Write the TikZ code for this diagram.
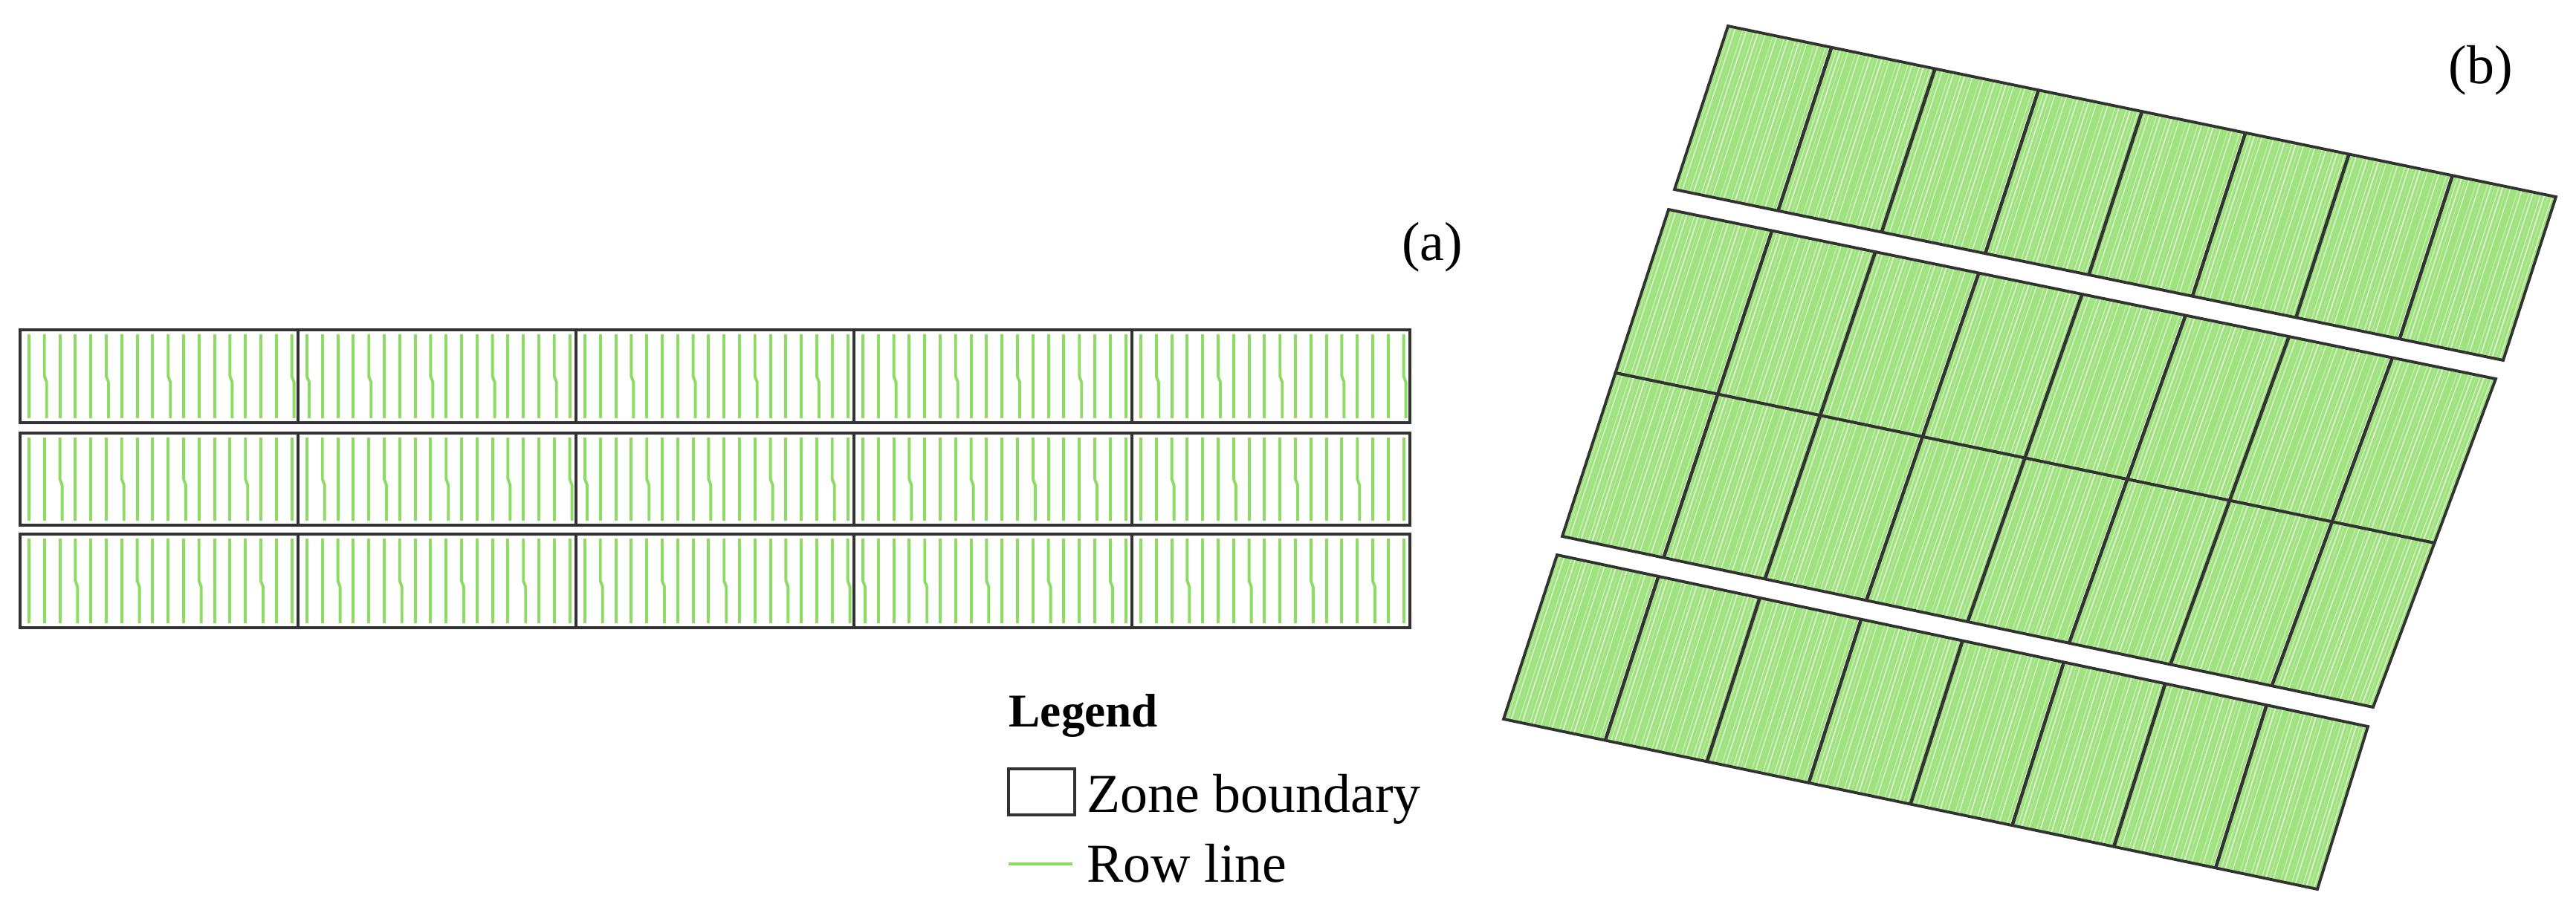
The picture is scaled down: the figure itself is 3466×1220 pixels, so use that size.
\documentclass[tikz,border=0pt]{standalone}
\usepackage{fontspec}
\setmainfont{Liberation Serif}
\usetikzlibrary{calc}

\definecolor{rowgreen}{RGB}{140,220,100}
\definecolor{fieldgreen}{RGB}{160,226,128}
\definecolor{zonegray}{RGB}{50,50,50}

\tikzset{
  zone/.style={draw=zonegray, line width=1.1pt},
  row/.style={draw=rowgreen, line width=1.1pt},
  field/.style={fill=fieldgreen},
  furrow/.style={draw=white, line width=0.4pt},
  divider/.style={draw=black!80, line width=1.3pt},
  label/.style={font=\fontsize{21}{24}\selectfont, inner sep=0pt},
}

% one rotated strip of panel (b): corners tl, tr, bl, br
\newcommand\fieldstrip[4]{%
  \coordinate (tl) at (#1);
  \coordinate (tr) at (#2);
  \coordinate (bl) at (#3);
  \coordinate (br) at (#4);
  \fill[field] (tl) -- (tr) -- (br) -- (bl) -- cycle;
  \foreach \k [evaluate=\k as \op using {mod(\k*37,11)/12}] in {1,...,219}
    \draw[furrow, draw opacity=\op] ($(tl)!\k/220!(tr)$) -- ($(bl)!\k/220!(br)$);
  \foreach \k in {1,...,7}
    \draw[divider] ($(tl)!\k/8!(tr)$) -- ($(bl)!\k/8!(br)$);
  \draw[zone] (tl) -- (tr) -- (br) -- (bl) -- cycle;
}

\begin{document}
\begin{tikzpicture}[x=0.01cm, y=-0.01cm]
  \useasboundingbox (0,0) rectangle (3466,1220);

  % panel (a)
  \foreach \top/\bot [count=\s] in {444/569, 583/707, 719/845} {
    \foreach \c in {0,...,4} {
      \foreach \i [evaluate=\i as \x using {27+374*\c+12+20.8*\i},
                   evaluate=\i as \jog using {int(mod(\i*7+\c*3+\s*5,4))}] in {0,...,17} {
        \ifnum\jog=0
          \draw[row] (\x,\top+6) -- (\x,{(\top+\bot)/2}) -- (\x+3,{(\top+\bot)/2+8}) -- (\x+3,\bot-6);
        \else
          \draw[row] (\x,\top+6) -- (\x,\bot-6);
        \fi
      }
      \draw[zone] (27+374*\c,\top) rectangle (27+374*\c+374,\bot);
    }
  }
  \node[label] (a) at (1927,333) {(a)};

  % panel (b)
  \fieldstrip{2325,35}{3439,265}{2253,255}{3368,485}
  \fieldstrip{2245,282}{3358,510}{2173.5,502}{3275.5,731}
  \fieldstrip{2173.5,502}{3275.5,731}{2102,722}{3193,952}
  \fieldstrip{2095,747}{3186,978}{2023,968}{3118,1197}
  \node[label] (b) at (3338,95) {(b)};

  % legend
  \node[label, anchor=base west, font=\fontsize{18}{21}\selectfont\bfseries] (legend) at (1357,978) {Legend};
  \draw[zone] (1357,1035) rectangle (1446,1097);
  \node[label, anchor=base west] (zonetext) at (1462,1093) {Zone boundary};
  \coordinate (rowa) at (1357,1163);
  \coordinate (rowb) at (1443,1163);
  \draw[row] (rowa) -- (rowb);
  \node[label, anchor=base west] (rowtext) at (1462,1187) {Row line};
\end{tikzpicture}
\end{document}
